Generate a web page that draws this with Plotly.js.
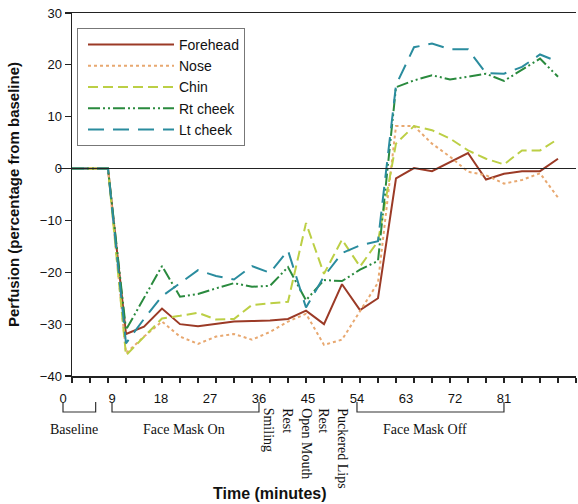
<!DOCTYPE html>
<html>
<head>
<meta charset="utf-8">
<script src="https://cdn.plot.ly/plotly-3.0.1.min.js"></script>
<style>html,body{margin:0;padding:0;background:#fff;}</style>
</head>
<body>
<div id="chart" style="width:578px;height:504px;"></div>
<script>
// ---- data ----
const minutes = [0,3,6,9,12,15,18,21,24,27,30,33,36,39,42,45,48,51,54,57,60,63,66,69,72,75,78,81];
const forehead = [0,0,0,-31.9,-30.5,-27.0,-30.0,-30.4,-30.0,-29.5,-29.4,-29.3,-29.0,-27.4,-30.0,-22.3,-27.3,-25.0,-1.9,0.1,-0.5,1.3,3.0,-2.1,-1.0,-0.5,-0.5,1.9];
const nose = [0,0,0,-35.6,-32.4,-29.5,-32.4,-33.8,-32.4,-31.9,-33.0,-31.5,-29.5,-28.0,-34.0,-33.0,-27.5,-22.0,8.2,8.2,4.8,2.3,-0.6,-1.3,-2.9,-2.2,-0.9,-5.6];
const chin = [0,0,0,-36.0,-32.4,-28.9,-28.4,-27.8,-29.1,-29.0,-26.3,-26.0,-25.7,-10.5,-20.3,-13.7,-18.9,-14.0,4.8,8.2,7.4,5.8,3.5,1.9,0.8,3.5,3.5,5.7];
const rtCheek = [0,0,0,-31.1,-25.0,-18.8,-24.7,-24.2,-23.1,-22.1,-22.8,-22.6,-19.0,-25.4,-21.5,-21.7,-19.5,-17.8,15.7,17.0,18.0,17.2,17.7,18.3,16.9,19.0,21.2,17.7];
const ltCheek = [0,0,0,-33.7,-29.0,-24.6,-22.1,-19.6,-20.7,-21.4,-18.8,-20.1,-15.8,-26.8,-20.8,-16.3,-14.8,-14.0,16.1,23.4,24.1,23.0,23.0,18.4,18.3,19.6,22.0,20.6];
const seriesNames = ['Forehead','Nose','Chin','Rt cheek','Lt cheek'];
const tickLabelVals = [0,9,18,27,36,45,54,63,72,81];
const tickLabelText = ['0','9','18','27','36','45','54','63','72','81'];
const phaseLabels = ['Baseline','Face Mask On','Face Mask Off'];
const phaseSpans = [[0,6],[9,36],[54,81]];
const phaseCenters = [2.0,22.2,66.5];
const taskLabels = ['Smiling','Rest','Open Mouth','Rest','Puckered Lips'];
const taskPositions = [37.9,41.2,44.7,47.8,51.4];

// ---- layout helpers ----
const W = 578, H = 504;
const mL = 58, mR = 2, mT = 13, mB = 128;
const plotTop = mT, plotBottom = H - mB;
function py(p){ return (plotBottom - p) / (plotBottom - plotTop); }
function pxp(p){ return (p - mL) / (W - mL - mR); }
const sans = 'Arial, "Liberation Sans", sans-serif';
const serif = '"Times New Roman", "Liberation Serif", serif';

const styles = [
  {color:'#9B3A26', dash:'solid', width:2},
  {color:'#E8A870', dash:'dot', width:2},
  {color:'#BCCF45', dash:'10px,5px', width:2},
  {color:'#2A8A3E', dash:'12px,3px,2px,3px,2px,3px', width:2},
  {color:'#2A8C9E', dash:'16px,9px', width:2}
];
const ys = [forehead, nose, chin, rtCheek, ltCheek];
const traces = ys.map((y,i)=>({
  type:'scatter', mode:'lines', x:minutes, y:y, name:seriesNames[i],
  line:{color:styles[i].color, dash:styles[i].dash, width:styles[i].width},
  xaxis:'x', yaxis:'y'
}));

const shapes = phaseSpans.map(s=>({
  type:'path', xref:'x2', yref:'paper',
  path:`M${s[0]},${py(402)} L${s[0]},${py(412)} L${s[1]},${py(412)} L${s[1]},${py(402)}`,
  line:{color:'#333', width:1.2}
}));

const annotations = [];
phaseLabels.forEach((t,i)=>annotations.push({
  text:t, xref:'x2', yref:'paper', x:phaseCenters[i], y:py(429),
  xanchor:'center', yanchor:'middle', showarrow:false,
  font:{family:serif, size:14, color:'#111'}
}));
taskLabels.forEach((t,i)=>annotations.push({
  text:t, xref:'x2', yref:'paper', x:taskPositions[i], y:py(406),
  xanchor:'center', yanchor:'top', showarrow:false, textangle:90,
  font:{family:serif, size:14, color:'#111'}
}));
annotations.push({
  text:'<b>Time (minutes)</b>', xref:'paper', yref:'paper', x:pxp(270), y:py(493),
  xanchor:'center', yanchor:'middle', showarrow:false,
  font:{family:sans, size:16, color:'#111'}
});

const layout = {
  width:W, height:H,
  margin:{l:mL, r:mR, t:mT, b:mB},
  paper_bgcolor:'#fff', plot_bgcolor:'rgba(0,0,0,0)',
  showlegend:true,
  legend:{x:pxp(77), y:py(28), xanchor:'left', yanchor:'top',
    bordercolor:'#777', borderwidth:1, bgcolor:'rgba(255,255,255,0)',
    font:{family:sans, size:14, color:'#111'}, itemwidth:86, indentation:5},
  xaxis:{domain:[(72-mL)/(W-mL-mR),1], range:[0,84], tick0:0, dtick:3,
    ticks:'outside', ticklen:5, tickcolor:'#222', tickwidth:1.2,
    showticklabels:false, showline:true, linecolor:'#222', linewidth:1.5,
    mirror:true, showgrid:false, zeroline:false, anchor:'y'},
  xaxis2:{domain:[0,1], range:[(mL-63)/5.444, (W-mR-63)/5.444], anchor:'y',
    tickmode:'array', tickvals:tickLabelVals, ticktext:tickLabelText,
    ticks:'outside', ticklen:10, tickcolor:'rgba(0,0,0,0)',
    showline:false, showgrid:false, zeroline:false,
    tickfont:{family:sans, size:13, color:'#111'}},
  yaxis:{range:[-40,30], dtick:10, tick0:0, ticks:'outside', ticklen:6,
    tickcolor:'#222', tickwidth:1.2, showline:true, linecolor:'#222', linewidth:1.5,
    showgrid:false, zeroline:true, zerolinecolor:'#222', zerolinewidth:1,
    tickfont:{family:sans, size:13, color:'#111'}, anchor:'x',
    title:{text:'<b>Perfusion (percentage from baseline)</b>', standoff:16,
      font:{family:sans, size:15, color:'#111'}}},
  shapes:shapes,
  annotations:annotations
};

Plotly.newPlot('chart', traces, layout, {staticPlot:true, displayModeBar:false});
</script>
</body>
</html>
